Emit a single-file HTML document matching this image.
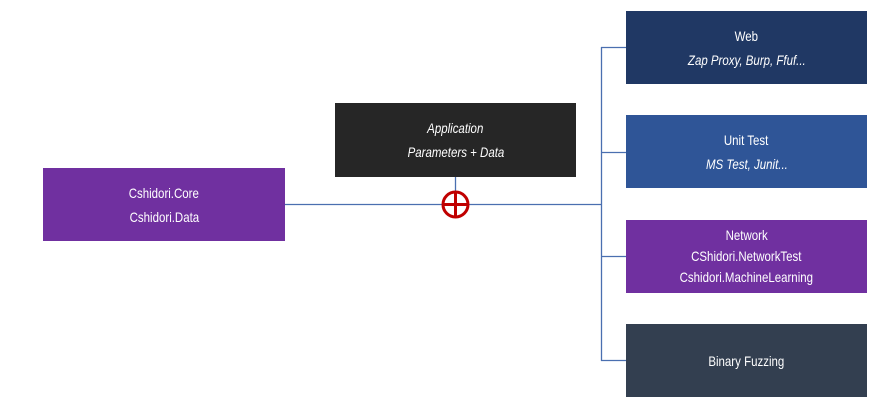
<!DOCTYPE html>
<html><head><style>
body{margin:0;width:885px;height:414px;background:#fff;position:relative;overflow:hidden;font-family:"Liberation Sans Narrow","Liberation Sans",sans-serif;}
.b{position:absolute;color:#fff;display:flex;flex-direction:column;justify-content:center;align-items:center;font-size:14px;line-height:24px;text-align:center;}
.b span{display:inline-block;transform:scaleX(0.82);white-space:nowrap;}
i{font-style:italic;}
</style></head><body>
<svg width="885" height="414" style="position:absolute;left:0;top:0">
<g stroke="#4a6fb0" stroke-width="1.3" fill="none">
<line x1="285" y1="204.5" x2="602" y2="204.5"/>
<line x1="601.5" y1="47" x2="601.5" y2="361"/>
<line x1="601" y1="47.5" x2="626" y2="47.5"/>
<line x1="601" y1="152.5" x2="626" y2="152.5"/>
<line x1="601" y1="256.5" x2="626" y2="256.5"/>
<line x1="601" y1="360.5" x2="626" y2="360.5"/>
<line x1="455.5" y1="177" x2="455.5" y2="192"/>
</g>
<circle cx="455.5" cy="204.5" r="12.5" fill="#fff" stroke="#c00000" stroke-width="3"/>
<line x1="443" y1="204.5" x2="468" y2="204.5" stroke="#c00000" stroke-width="3"/>
<line x1="455.5" y1="192" x2="455.5" y2="217" stroke="#c00000" stroke-width="3"/>
</svg>
<div class="b" style="left:43px;top:168px;width:242px;height:73px;background:#7030a0"><span>Cshidori.Core</span><span>Cshidori.Data</span></div>
<div class="b" style="left:335px;top:103px;width:241px;height:74px;background:#262626"><span><i>Application</i></span><span><i>Parameters + Data</i></span></div>
<div class="b" style="left:626px;top:11px;width:241px;height:73px;background:#203864"><span>Web</span><span><i>Zap Proxy, Burp, Ffuf...</i></span></div>
<div class="b" style="left:626px;top:115px;width:241px;height:73px;background:#2f5597"><span>Unit Test</span><span><i>MS Test, Junit...</i></span></div>
<div class="b" style="left:626px;top:220px;width:241px;height:73px;background:#7030a0;line-height:21px"><span>Network</span><span>CShidori.NetworkTest</span><span>Cshidori.MachineLearning</span></div>
<div class="b" style="left:626px;top:324px;width:241px;height:73px;background:#333f50"><span>Binary Fuzzing</span></div>
</body></html>
